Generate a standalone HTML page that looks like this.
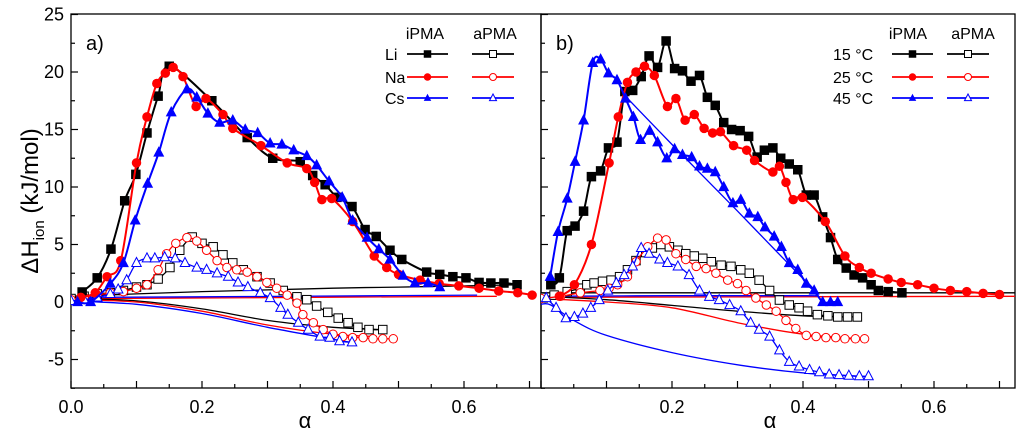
<!DOCTYPE html>
<html><head><meta charset="utf-8"><style>
html,body{margin:0;padding:0;background:#fff;}
svg{display:block;font-family:"Liberation Sans",Arial,sans-serif;}
</style></head><body>
<svg id="chart" width="1024" height="435" viewBox="0 0 1024 435" xmlns="http://www.w3.org/2000/svg">
<defs>
<clipPath id="clipL"><rect x="71" y="14" width="470" height="374"/></clipPath>
<clipPath id="clipR"><rect x="541" y="14" width="474" height="374"/></clipPath>
</defs>
<rect x="71" y="14" width="470" height="374" fill="none" stroke="#000" stroke-width="1.3"/>
<rect x="541" y="14" width="474" height="374" fill="none" stroke="#000" stroke-width="1.3"/>
<g id="axes"></g>
<g id="plotL" clip-path="url(#clipL)"></g>
<g id="plotR" clip-path="url(#clipR)"></g>
<g id="legend"></g>
<text x="86" y="50" font-size="20">a)</text>
<text x="556" y="50" font-size="20">b)</text>
<text transform="translate(38,201) rotate(-90)" text-anchor="middle" font-size="24">ΔH<tspan font-size="15" dy="6">ion</tspan><tspan dy="-6"> (kJ/mol)</tspan></text>
<text x="305" y="428" text-anchor="middle" font-size="22">α</text>
<text x="770" y="428" text-anchor="middle" font-size="22">α</text>
</svg>
<script>
// ---------- Panel a data ----------
const liIX=[0.017,0.04,0.061,0.082,0.099,0.116,0.133,0.150,0.215,0.269,0.308,0.35,0.369,0.388,0.406,0.429,0.449,0.466,0.487,0.505,0.543,0.563,0.583,0.603,0.623,0.641,0.661,0.681];
const liIY=[0.87,2.1,4.6,8.8,11.1,14.7,17.9,20.5,17.5,14.3,12.5,12.2,11.0,10.2,9.1,8.3,6.3,5.7,4.5,3.7,2.6,2.4,2.2,2.1,1.7,1.65,1.65,1.5];
const naIX=[0.015,0.037,0.055,0.076,0.1,0.116,0.131,0.144,0.156,0.171,0.191,0.206,0.232,0.247,0.29,0.33,0.36,0.372,0.383,0.398,0.43,0.463,0.482,0.5,0.533,0.562,0.592,0.623,0.653,0.682,0.704];
const naIY=[0.4,0.8,2.2,3.6,12.1,16.1,19.0,19.9,20.4,19.6,17.0,17.7,16.3,15.1,13.6,12.1,11.6,10.4,8.9,9.0,7.0,4.0,3.0,2.4,1.9,1.6,1.4,1.2,0.96,0.8,0.6];
const csIX=[0.01,0.03,0.06,0.08,0.098,0.117,0.134,0.153,0.177,0.192,0.209,0.227,0.247,0.266,0.285,0.304,0.322,0.34,0.36,0.375,0.394,0.414,0.43,0.452,0.47,0.487,0.507,0.525,0.545,0.563];
const csIY=[0,0,1.6,3.4,7.1,10.3,13.0,16.5,18.5,17.8,16.4,15.6,15.8,15.0,14.7,13.8,13.7,13.2,12.7,11.9,10.5,9.1,7.1,5.6,4.6,3.7,2.3,1.65,1.65,1.3];
const liAX=[0,0.02,0.04,0.06,0.08,0.1,0.116,0.133,0.151,0.166,0.185,0.2,0.217,0.232,0.247,0.263,0.284,0.304,0.324,0.345,0.36,0.375,0.392,0.408,0.423,0.438,0.455,0.476];
const liAY=[0.3,0.5,0.7,0.8,1.0,1.3,1.5,2.0,3.0,4.5,5.65,5.1,4.8,4.1,3.4,2.8,2.2,1.65,1.0,0.45,0.2,-0.35,-0.9,-1.4,-1.8,-2.2,-2.4,-2.4];
const naAX=[0,0.02,0.04,0.06,0.08,0.1,0.116,0.133,0.146,0.16,0.177,0.192,0.207,0.223,0.238,0.253,0.269,0.284,0.299,0.314,0.33,0.345,0.354,0.37,0.385,0.4,0.415,0.43,0.446,0.461,0.476,0.492];
const naAY=[0.2,0.4,0.6,0.8,0.9,1.2,1.5,2.8,4.2,5.1,5.6,5.3,4.5,3.6,3.0,2.8,2.6,2.2,1.7,1.2,0.6,-0.1,-1.1,-1.8,-2.4,-2.8,-3.0,-3.1,-3.1,-3.2,-3.2,-3.2];
const csAX=[0,0.02,0.04,0.06,0.072,0.085,0.1,0.116,0.128,0.143,0.159,0.174,0.192,0.207,0.223,0.24,0.255,0.27,0.289,0.304,0.32,0.331,0.347,0.362,0.38,0.395,0.41,0.429];
const csAY=[0.1,0.2,0.4,0.7,1.1,1.9,3.4,3.8,3.8,3.9,3.8,3.4,3.0,2.8,2.5,2.2,1.7,1.3,0.8,0.35,-0.5,-1.1,-1.8,-2.4,-3.0,-3.1,-3.4,-3.5];
const liUpX=[0,0.1,0.2,0.3,0.4,0.5,0.6,0.68], liUpY=[0.5,0.7,0.9,1.05,1.2,1.3,1.4,1.5];
const naUpX=[0,0.2,0.4,0.65], naUpY=[0.3,0.35,0.42,0.5];
const csUpX=[0,0.2,0.4,0.62], csUpY=[0.4,0.45,0.52,0.6];
const liDnX=[0,0.1,0.2,0.3,0.4,0.476], liDnY=[0.3,0.1,-0.6,-1.6,-2.2,-2.4];
const naDnX=[0,0.1,0.2,0.3,0.4,0.467], naDnY=[0.2,0,-0.8,-2.0,-2.8,-3.0];
const csDnX=[0,0.1,0.2,0.3,0.426], csDnY=[0.1,-0.2,-1.0,-2.2,-3.5];
// ---------- Panel b data ----------
const t15IX=[0.015,0.028,0.04,0.052,0.065,0.077,0.091,0.103,0.116,0.128,0.14,0.153,0.165,0.178,0.191,0.204,0.216,0.229,0.242,0.254,0.266,0.279,0.291,0.304,0.317,0.33,0.341,0.354,0.366,0.379,0.392,0.405,0.417,0.43,0.442,0.453,0.466,0.478,0.491,0.504,0.515,0.53,0.551];
const t15IY=[1.5,2.1,6.2,6.6,7.9,10.9,11.4,13.4,13.9,18.3,18.4,19.6,21.4,20.4,22.7,20.3,20.1,19.2,19.7,17.8,17.1,15.6,15.0,14.9,14.4,12.6,13.2,13.4,12.5,12.0,11.5,9.3,9.3,7.4,5.6,3.7,2.95,2.35,2.1,1.5,1.0,0.9,0.8];
const t25IX=[0.028,0.051,0.077,0.104,0.118,0.132,0.145,0.158,0.173,0.193,0.206,0.22,0.234,0.249,0.262,0.274,0.294,0.314,0.326,0.354,0.364,0.374,0.385,0.399,0.434,0.464,0.486,0.504,0.53,0.55,0.575,0.6,0.625,0.65,0.675,0.7];
const t25IY=[0.5,1.5,5.0,12.1,16.1,19.1,20.0,20.5,19.7,17.0,17.7,15.8,16.3,15.1,14.7,14.8,13.6,13.2,12.3,11.3,11.8,10.4,8.9,9.1,7.0,4.0,3.0,2.5,2.0,1.7,1.5,1.2,1.0,0.9,0.75,0.65];
const t45IX=[0.014,0.026,0.04,0.052,0.065,0.079,0.091,0.103,0.116,0.129,0.141,0.152,0.166,0.178,0.192,0.204,0.216,0.23,0.242,0.254,0.266,0.279,0.293,0.305,0.318,0.331,0.342,0.356,0.367,0.379,0.392,0.405,0.417,0.43,0.442,0.453];
const t45IY=[2.2,6.1,9.0,12.2,15.8,20.8,21.1,19.9,19.3,17.7,16.1,14.1,14.9,13.9,12.5,13.3,12.8,12.6,11.8,11.6,11.3,10.0,8.6,8.9,7.7,7.4,6.5,5.7,4.8,3.4,2.8,1.6,1.0,0.0,0.0,0.0];
const t15AX=[0,0.02,0.04,0.06,0.07,0.081,0.094,0.107,0.12,0.132,0.145,0.16,0.17,0.183,0.196,0.209,0.221,0.234,0.247,0.26,0.275,0.29,0.305,0.318,0.333,0.349,0.364,0.379,0.394,0.407,0.422,0.438,0.453,0.468,0.483];
const t15AY=[0.4,0.6,0.9,1.2,1.5,1.65,1.8,1.9,2.2,2.8,3.6,4.3,4.7,5.0,4.8,4.5,4.2,4.0,3.8,3.5,3.2,3.1,2.8,2.5,1.9,1.0,0.17,-0.26,-0.5,-0.8,-1.1,-1.2,-1.3,-1.3,-1.3];
const t25AX=[0,0.03,0.06,0.09,0.104,0.117,0.132,0.145,0.163,0.178,0.191,0.206,0.221,0.237,0.252,0.267,0.285,0.3,0.313,0.328,0.344,0.359,0.374,0.389,0.405,0.42,0.435,0.45,0.464,0.48,0.494];
const t25AY=[0.3,0.5,0.8,1.0,1.2,1.5,2.2,3.5,4.8,5.55,5.4,4.2,3.7,3.1,2.9,2.5,1.9,1.6,1.0,0.35,-0.26,-0.8,-1.6,-2.3,-2.9,-3.0,-3.1,-3.1,-3.2,-3.2,-3.2];
const t45AX=[0.008,0.023,0.038,0.051,0.064,0.076,0.089,0.102,0.115,0.127,0.14,0.153,0.165,0.181,0.193,0.209,0.226,0.242,0.257,0.272,0.288,0.305,0.32,0.333,0.349,0.364,0.379,0.394,0.41,0.425,0.44,0.455,0.47,0.486,0.5];
const t45AY=[0.35,-0.5,-1.4,-1.3,-1.0,-0.5,0.17,1.0,1.65,2.35,3.1,4.7,4.2,3.7,3.4,3.1,2.35,1.0,0.46,0.17,-0.26,-0.8,-1.8,-2.4,-3.0,-4.2,-5.2,-5.6,-5.9,-6.1,-6.3,-6.35,-6.4,-6.45,-6.45];
const t15FlatX=[0,0.36,0.73], t15FlatY=[0.8,0.8,0.8];
const t25FlatX=[0,0.36,0.73], t25FlatY=[0.4,0.45,0.5];
const t15DnX=[0,0.1,0.2,0.3,0.4,0.48], t15DnY=[0.5,0.2,-0.3,-0.8,-1.2,-1.3];
const t25DnX=[0,0.1,0.2,0.3,0.4,0.49], t25DnY=[0.3,0.0,-0.5,-1.8,-2.8,-3.2];
const t45DnX=[0,0.015,0.05,0.1,0.2,0.305,0.407,0.5], t45DnY=[-0.2,-0.26,-1.6,-2.9,-4.4,-5.5,-6.2,-6.5];
const t45FitX=[0.122,0.2,0.3,0.39,0.412,0.42,0.4,0.2,0], t45FitY=[18.3,13.7,7.9,2.6,1.4,0.6,0.55,0.55,0.5];
const yTicks=[-5,0,5,10,15,20,25];
const xTicksL=["0.0","0.2","0.4","0.6"], xTickValsL=[0,0.2,0.4,0.6];
const xTicksR=["0.2","0.4","0.6"], xTickValsR=[0.2,0.4,0.6];

const NS="http://www.w3.org/2000/svg";
const xL=a=>71+a*655, xR=a=>541+a*655, yS=v=>302-v*11.5;
function mk(tag,parent){const e=document.createElementNS(NS,tag);parent.appendChild(e);return e;}
function smooth(pts){
  let d="M"+pts[0][0].toFixed(1)+","+pts[0][1].toFixed(1);
  for(let i=0;i<pts.length-1;i++){
    const p0=pts[i-1]||pts[i],p1=pts[i],p2=pts[i+1],p3=pts[i+2]||p2;
    const c1=[p1[0]+(p2[0]-p0[0])/6,p1[1]+(p2[1]-p0[1])/6];
    const c2=[p2[0]-(p3[0]-p1[0])/6,p2[1]-(p3[1]-p1[1])/6];
    d+="C"+c1[0].toFixed(1)+","+c1[1].toFixed(1)+" "+c2[0].toFixed(1)+","+c2[1].toFixed(1)+" "+p2[0].toFixed(1)+","+p2[1].toFixed(1);
  }
  return d;
}
function line(g,xs,ys,xf,color,w,name){
  const p=mk("path",g);
  
  
  p.setAttribute("d",smooth(xs.map((x,i)=>[xf(x),yS(ys[i])])));
  p.setAttribute("fill","none");p.setAttribute("stroke",color);p.setAttribute("stroke-width",w);
}
function marker(g,cx,cy,type,color,filled,s,name){
  let e;
  if(type==="sq"){e=mk("rect",g);e.setAttribute("x",cx-s/2);e.setAttribute("y",cy-s/2);e.setAttribute("width",s);e.setAttribute("height",s);}
  else if(type==="ci"){e=mk("circle",g);e.setAttribute("cx",cx);e.setAttribute("cy",cy);e.setAttribute("r",s/2);}
  else {e=mk("polygon",g);const h=s*0.95;e.setAttribute("points",`${cx},${cy-h*0.6} ${cx-s/2},${cy+h*0.4} ${cx+s/2},${cy+h*0.4}`);}
  
  
  e.setAttribute("fill",filled?color:"#fff");e.setAttribute("stroke",color);e.setAttribute("stroke-width",filled?0:1);
}
function series(g,xs,ys,xf,color,type,filled,name){
  line(g,xs,ys,xf,color,filled?2:1.3,name+"-line");
  xs.forEach((x,i)=>marker(g,xf(x),yS(ys[i]),type,color,filled,filled?(type==="tr"?11:9.5):(type==="tr"?9.5:8.5),name+"-point"));
}
const gL=document.getElementById("plotL"), gR=document.getElementById("plotR");
const K="#000",R="#f00",B="#00f";
line(gL,liUpX,liUpY,xL,K,1.3,"li-thin-upper");
line(gL,naUpX,naUpY,xL,R,1.3,"na-thin-upper");
line(gL,csUpX,csUpY,xL,B,1.3,"cs-thin-upper");
line(gL,liDnX,liDnY,xL,K,1.3,"li-thin-lower");
line(gL,naDnX,naDnY,xL,R,1.3,"na-thin-lower");
line(gL,csDnX,csDnY,xL,B,1.3,"cs-thin-lower");
series(gL,liAX,liAY,xL,K,"sq",false,"li-apma");
series(gL,naAX,naAY,xL,R,"ci",false,"na-apma");
series(gL,csAX,csAY,xL,B,"tr",false,"cs-apma");
series(gL,liIX,liIY,xL,K,"sq",true,"li-ipma");
series(gL,naIX,naIY,xL,R,"ci",true,"na-ipma");
series(gL,csIX,csIY,xL,B,"tr",true,"cs-ipma");
line(gR,t15FlatX,t15FlatY,xR,K,1.3,"t15-thin-upper");
line(gR,t25FlatX,t25FlatY,xR,R,1.3,"t25-thin-upper");
line(gR,t15DnX,t15DnY,xR,K,1.3,"t15-thin-lower");
line(gR,t25DnX,t25DnY,xR,R,1.3,"t25-thin-lower");
line(gR,t45DnX,t45DnY,xR,B,1.3,"t45-thin-lower");
line(gR,t45FitX,t45FitY,xR,B,1.3,"t45-thin-fit");
series(gR,t15AX,t15AY,xR,K,"sq",false,"t15-apma");
series(gR,t25AX,t25AY,xR,R,"ci",false,"t25-apma");
series(gR,t45AX,t45AY,xR,B,"tr",false,"t45-apma");
series(gR,t15IX,t15IY,xR,K,"sq",true,"t15-ipma");
series(gR,t25IX,t25IY,xR,R,"ci",true,"t25-ipma");
series(gR,t45IX,t45IY,xR,B,"tr",true,"t45-ipma");
const ax=document.getElementById("axes");
function tick(x1,y1,x2,y2,name){const l=mk("line",ax);
  
  
  l.setAttribute("x1",x1);l.setAttribute("y1",y1);l.setAttribute("x2",x2);l.setAttribute("y2",y2);l.setAttribute("stroke","#000");l.setAttribute("stroke-width",1.2);}
function label(x,y,txt,anchor,name){const t=mk("text",ax);
  
  
  t.setAttribute("x",x);t.setAttribute("y",y);t.setAttribute("text-anchor",anchor);t.setAttribute("font-size","18");t.textContent=txt;}
for(let v=-7.5;v<=25;v+=2.5){
  const major=(v%5===0);
  tick(71,yS(v),71+(major?7:4),yS(v),"y-tick");
  tick(541,yS(v),541+(major?7:4),yS(v),"y-tick-b");
}
yTicks.forEach(v=>label(64,yS(v)+6,String(v),"end","y-tick-label"));
for(let i=0;i<=14;i++){const a=i*0.05;const major=i%2===0;
  tick(xL(a),388,xL(a),388-(major?7:4),"x-tick-a");
  if(xR(a)<1015) tick(xR(a),388,xR(a),388-(major?7:4),"x-tick-b");}
xTickValsL.forEach((v,i)=>label(xL(v),413,xTicksL[i],"middle","x-tick-label-a"));
xTickValsR.forEach((v,i)=>label(xR(v),413,xTicksR[i],"middle","x-tick-label-b"));
const lg=document.getElementById("legend");
function ltext(x,y,txt,anchor,name){const t=mk("text",lg);
  
  
  t.setAttribute("x",x);t.setAttribute("y",y);t.setAttribute("text-anchor",anchor);t.setAttribute("font-size","16");t.textContent=txt;}
function lentry(x1,x2,y,color,type,filled,name){const l=mk("line",lg);
  
  
  l.setAttribute("x1",x1);l.setAttribute("x2",x2);l.setAttribute("y1",y);l.setAttribute("y2",y);l.setAttribute("stroke",color);l.setAttribute("stroke-width",1.8);
  marker(lg,(x1+x2)/2,y,type,color,filled,filled?7.5:7,name+"-marker");}
const rowsY=[54,77,98], cols=[K,R,B], types=["sq","ci","tr"];
ltext(425,39,"iPMA","middle","legend-a-header-ipma");ltext(495,39,"aPMA","middle","legend-a-header-apma");
["Li","Na","Cs"].forEach((s,i)=>{ltext(385,rowsY[i]+6,s,"start","legend-a-label");
  lentry(407,448,rowsY[i],cols[i],types[i],true,"legend-a-ipma");lentry(472,514,rowsY[i],cols[i],types[i],false,"legend-a-apma");});
ltext(908,39,"iPMA","middle","legend-b-header-ipma");ltext(973,39,"aPMA","middle","legend-b-header-apma");
["15 °C","25 °C","45 °C"].forEach((s,i)=>{ltext(833,rowsY[i]+6,s,"start","legend-b-label");
  lentry(892,933,rowsY[i],cols[i],types[i],true,"legend-b-ipma");lentry(947,989,rowsY[i],cols[i],types[i],false,"legend-b-apma");});
</script>
</body></html>
